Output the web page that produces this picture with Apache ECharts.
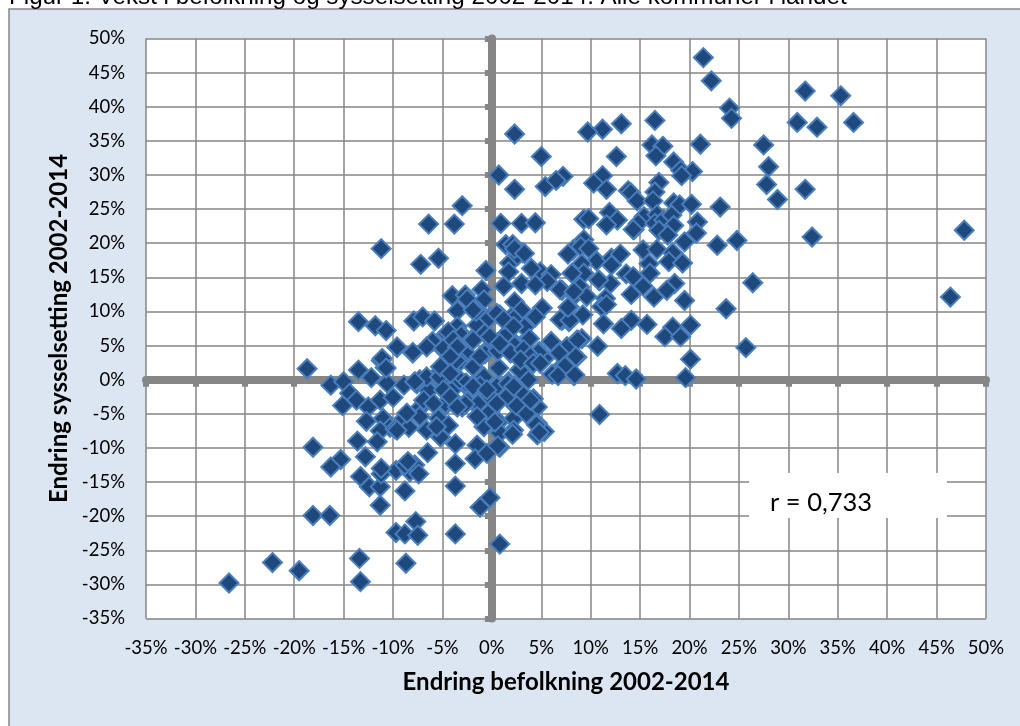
<!DOCTYPE html>
<html><head><meta charset="utf-8">
<style>html,body{margin:0;padding:0;background:#fff}#c{width:1020px;height:726px}</style>
<script src="https://cdn.jsdelivr.net/npm/echarts@6/dist/echarts.min.js"></script>
</head><body><div id="c"></div>
<script>
const popChange = [
21.4,22.2,31.7,35.3,24.05,24.25,16.5,13.1,11.2,9.7,
30.9,32.9,36.6,21.1,27.5,16.2,17.3,16.6,12.6,28,
18.4,19.1,20.3,19.2,7.2,11.2,10.3,11.6,27.8,31.7,
16.9,16.5,13.8,14.05,14.7,16.3,28.9,18.4,19,20.2,
23.1,9.3,9.8,11.9,12.7,11.6,15.4,14.4,14.8,16.7,
16.5,17.4,18.2,18.4,16.9,17.8,20.8,20.7,19.5,22.8,
24.8,32.4,47.8,9.3,8.2,9,9.8,7.7,10.6,9.1,
12.1,13,12.1,15.3,16.7,15.9,18.3,17.9,19.3,8.4,
9.3,10.9,12,13.6,14.5,16,15.3,18.5,17.7,14.1,
16.4,19.5,26.4,23.7,46.4,7.1,8.9,8.4,9.6,11.5,
11.1,7.8,9.2,7.8,11.3,7.1,14.1,13.1,15.7,18.3,
20.1,17.5,19.1,8.6,9.1,7.6,10.7,8.6,7.2,8.3,
25.7,20.1,12.7,13.5,14.6,19.6,10.9,
-26.6,-22.2,-19.5,-13.4,-13.3,-8.7,-18.1,-16.4,-18.1,-18.7,
-16.3,-15,-13.5,-12.2,-11.2,-10.8,-9.6,-8,-4.9,-10.6,
-8.9,-14.4,-13.7,-15.1,-12.5,-11.3,-10,-7.6,-6.4,-5.1,
-2.8,-0.8,-12.7,-11,-10.3,-11.3,-8.9,-8.4,-7.2,-4.7,
-5.4,-4.4,-6.6,-5.2,-3,-1.5,-0.2,-0.8,0.7,-13.6,
-11.6,-12.8,-15.3,-16.3,-6.5,-3.7,-3.7,-1.5,-1.7,-0.5,
0.8,-13.3,-12.4,-11.3,-11.2,-9.7,-8.3,-7.8,-7.4,-8.8,
-8.8,-11.3,-3.7,-0.2,-1.2,0.8,-3.7,-7.7,-9.7,-8.8,
-7.5,
-3,-6.4,-3.8,0.9,3,4.4,14.3,-11.2,1.4,2.1,
3.1,-7.2,-5.4,1.8,1.7,-0.6,1.2,3,4.9,4,
6,5.6,4.4,6.9,8.1,10.8,14.3,8.3,11.6,6.9,
7.9,-4,-2.7,-2.5,-1,-0.8,-1.5,-3.5,2.3,5.1,
4.4,3,0.8,-0.2,2,-13.5,-11.8,-10.7,-7.9,-7,
-5.8,-1.5,-3.5,-3,-4.6,-0.7,1.4,3.4,2.5,3.7,
-9.6,-8,-6,-6.6,-4.9,-0.2,-0.7,-2.4,-3.2,4.8,
6,5.3,7.6,6.8,8.7,8.5,7.4,6.1,6.7,8.4,
-11.1,-10.7,-7.3,-6.6,-5.1,-5.2,-3.4,-2.6,-0.8,0.7,
1.7,3,3.7,-7.8,-0.8,0.5,3,2.5,4.6,2.2,
4.6,5.3,4.6,2.2,0.8,-4.7,-2.5,-3.9,-1.4,3.3,
1.3,3.8,4.7,7.7,2.8,1.6,4.2,2.5,3.5,4.5,
2.1,4.8,0.6,0.3,0,0.6,2.3,-4.4,-3.1,-2.1,
2.2,-4.3,-5.3,-1.6,-1.6,2.6,-0.3,-3.6,-4.1,-2.7,
-1.2,-9.8,-8.5,-11.2,
0.7,2.3,5,2.3,5.4,6.5,2.3,3.3,
-1.9,0.5,1.2,2.2,-0.2,-1.9,-3.9,-3.5,-4.2,-5.2,
-1.9,-1.2,0.8,1.9,3.2,3.9,2.9,4.2,4.9,-4.2,
-4.9,-6.9,-5.9,-4.2,-3.5,-1.9,-0.5,1.5,3.9,2.2,
0.5,-1.5,-5.6,-7.3,-8.6,-9.6
];
const jobChange = [
47.2,43.8,42.3,41.6,39.8,38.3,38,37.5,36.7,36.3,
37.7,37,37.7,34.5,34.4,34.4,34.2,32.8,32.7,31.2,
31.9,30.7,30.5,29.9,29.8,29.9,28.8,27.9,28.6,27.9,
28.9,27.5,27.7,27.4,26.2,26.2,26.4,25.9,25.6,25.7,
25.3,23.5,23.6,24.5,23.4,22.7,23.9,22,22.9,24.2,
22.9,23.4,24.1,22.6,21.9,21.2,23.1,21.5,20.2,19.7,
20.4,20.9,21.9,20.5,19,19.5,19.2,18.4,17.4,17,
17.8,18.4,16.8,19,19.1,17,18.6,17.3,17.1,15.3,
15.6,14.5,14.1,15.5,14.8,15.6,13.7,14.1,13.1,12.5,
12.1,11.6,14.2,10.4,12.1,13.1,13.6,12.4,12.2,11.9,
10.7,10.7,9.5,8.5,8.2,8.7,8.7,7.5,8.1,7.7,
8,6.3,6.3,5.8,6,4.8,4.9,3.3,2.1,0.6,
4.7,3,0.9,0.6,0.1,0.3,-5.1,
-29.8,-26.8,-28,-26.2,-29.6,-26.9,-19.9,-19.9,-9.9,1.6,
-0.8,-0.3,1.4,0.3,2.8,1.8,4.7,3.9,4.4,-0.5,
-0.8,-2,-3,-3.8,-4,-3,-2.6,-0.6,-1.6,-0.3,
-0.6,-2.3,-6.1,-5.7,-7,-7.5,-5.7,-7,-4,-3.8,
-5.7,-6.7,-7.4,-8.4,-4,-3.8,-4.7,-6.9,-6.2,-9,
-9.1,-11.3,-11.7,-12.8,-10.7,-9.4,-12.3,-9.6,-11.6,-10.8,
-9.9,-14.2,-15.7,-15.7,-13.8,-13.3,-13.5,-12.5,-13.8,-12.5,
-16.3,-18.4,-15.6,-17.3,-18.7,-24.1,-22.6,-20.8,-22.4,-22.6,
-22.8,
25.5,22.8,22.8,22.9,22.9,23,22,19.2,19.8,19.8,
18.6,16.9,17.8,17.1,15.8,16,13.7,14.1,15.8,16.3,
15.4,14.4,13.9,13.2,15.6,14.6,15.1,12.9,11,8.8,
8.7,12.3,12.4,11.8,13.2,11.7,10.2,10.1,11.4,10.5,
9.2,10.2,9.5,9.2,9.2,8.5,7.9,7.2,8.6,9.2,
8.6,8,7.8,6.6,6.7,6.8,6.6,7.9,5.1,6.1,
4.8,4,5.6,4.8,4.6,4.8,3.8,3.6,2.7,4.1,
5.6,3.1,4.8,3.9,5.8,3.4,2,0.8,0.6,0.7,
3.1,1.7,0,0.4,-0.3,1.2,0.2,-0.5,0.4,1.7,
-0.3,1.7,0,-0.3,-2.2,-1,-2,-4,-4,-5.7,
-6.4,-7.6,-8.1,-7.4,-7.8,-3.5,-3.2,-1,-3.5,7.7,
6.4,6,4,10.6,1.4,-0.6,-2.8,-3.8,-5,-6.6,
-8,-7.7,-9.7,-6.2,-2.8,4.2,5,7,6.5,5.8,
8.9,1.1,0.4,2.7,10,18.2,9,2.8,-1.6,-3.6,
-0.9,-7.2,-12,-13,
30,36,32.7,27.9,28.3,29.2,19.2,18.5,
10.2,9.7,8.8,7.8,6.3,5.8,5.8,4.8,3.4,1.9,
1.9,3.4,5.3,3.9,4.4,3.4,2.9,2.4,2.4,0.9,
-1.5,-3,-3.5,-2.5,-4,-1,-1.5,-2.5,-3,-1,
-3.5,-5.4,-6.9,-5.4,-4.9,-7.4
];
const titleText = 'Figur 1: Vekst i befolkning og sysselsetting 2002-2014. Alle kommuner i landet';
const xTitle = 'Endring befolkning 2002-2014';
const yTitle = 'Endring sysselsetting 2002-2014';
const noteText = 'r = 0,733';
const axisMin = -35, axisMax = 50, axisStep = 5;

const chart = echarts.init(document.getElementById('c'), null, {renderer:'canvas'});
const GRAY = '#868686';
const lab = {fontFamily:'Lato', fontSize:18.5, color:'#000', formatter:'{value}%'};
const common = {type:'value', min:axisMin, max:axisMax, interval:axisStep};
const base = a => Object.assign({}, common, a);
chart.setOption({
  animation:false,
  backgroundColor:'#fff',
  grid:{left:146, top:38.5, right:34, bottom:107.5, show:true, backgroundColor:'#fff', borderWidth:0, containLabel:false},
  xAxis:[
    base({position:'bottom', name:xTitle, nameLocation:'middle', nameGap:52,
      nameTextStyle:{fontFamily:'Lato', fontWeight:'bold', fontSize:24, color:'#000'},
      axisLine:{show:false, onZero:false}, axisTick:{show:false},
      axisLabel:Object.assign({margin:20, interval:0, hideOverlap:false, showMinLabel:true, showMaxLabel:true}, lab),
      splitLine:{show:true, lineStyle:{color:GRAY, width:1.5}}}),
    base({position:'bottom', axisLine:{show:true, onZero:true, lineStyle:{color:GRAY, width:8}},
      axisTick:{show:true, length:7, lineStyle:{color:GRAY, width:6}},
      axisLabel:{show:false}, splitLine:{show:false}})
  ],
  yAxis:[
    base({position:'left', name:yTitle, nameLocation:'middle', nameGap:75,
      nameTextStyle:{fontFamily:'Lato', fontWeight:'bold', fontSize:24, color:'#000'},
      axisLine:{show:false, onZero:false}, axisTick:{show:false},
      axisLabel:Object.assign({margin:21, interval:0, hideOverlap:false, showMinLabel:true, showMaxLabel:true}, lab),
      splitLine:{show:true, lineStyle:{color:GRAY, width:1.5}}}),
    base({position:'left', axisLine:{show:true, onZero:true, lineStyle:{color:GRAY, width:8}},
      axisTick:{show:true, length:7, lineStyle:{color:GRAY, width:6}},
      axisLabel:{show:false}, splitLine:{show:false}})
  ],
  series:[{
    type:'scatter', xAxisIndex:0, yAxisIndex:0, symbol:'diamond', symbolSize:19, z:5,
    itemStyle:{color:'#1F497D', borderColor:'#4A7EBB', borderWidth:2, opacity:1},
    data:popChange.map((x,i)=>[x, jobChange[i]])
  }],
  graphic:[
    {type:'rect', z:-10, silent:true, shape:{x:9,y:9,width:1040,height:760},
      style:{fill:'#DCE6F2', stroke:GRAY, lineWidth:1.5}},
    {type:'text', z:10, silent:true, x:9, y:9, style:{text:titleText, fontFamily:'Liberation Sans', fontSize:24.2, fill:'#000', verticalAlign:'bottom'}},
    {type:'rect', z:10, silent:true, shape:{x:749,y:473,width:198,height:45}, style:{fill:'#fff'}},
    {type:'text', z:11, silent:true, x:770, y:503, style:{text:noteText, fontFamily:'Lato', fontSize:25.5, fill:'#000', verticalAlign:'middle'}}
  ]
});
</script></body></html>
